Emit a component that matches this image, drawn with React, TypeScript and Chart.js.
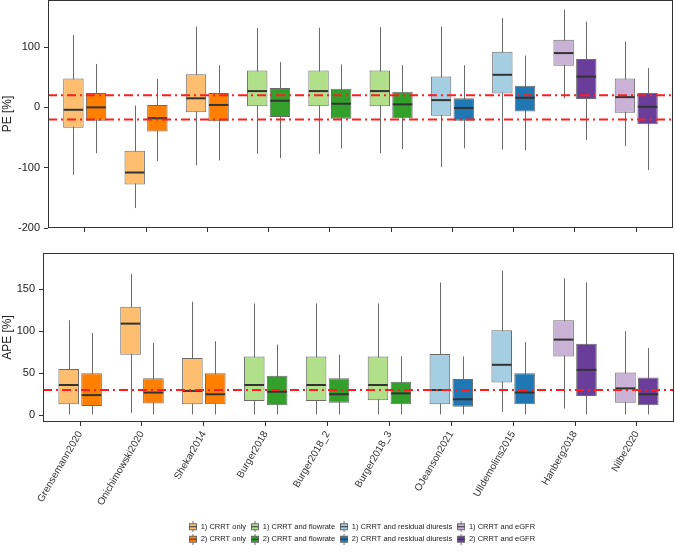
import React, { useEffect, useRef } from 'react';
import { Chart, registerables } from 'chart.js';
Chart.register(...registerables);

const categories = ['Grensemann2020', 'Onichimowski2020', 'Shekar2014', 'Burger2018', 'Burger2018_2', 'Burger2018_3', 'OJeanson2021', 'Ulldemolins2015', 'Hanberg2018', 'Nilbe2020'];
const modelGroup = [0, 0, 0, 1, 1, 1, 2, 2, 3, 3];
const groupNames = ['CRRT only', 'CRRT and flowrate', 'CRRT and residual diuresis', 'CRRT and eGFR'];
const lightColors = ['#FDBF6F', '#B2DF8A', '#A6CEE3', '#CAB2D6'];
const darkColors = ['#FF7F00', '#33A02C', '#1F78B4', '#6A3D9A'];

// PE [%], model 1)
const pe1Min = [-112, -167, -96, -77, -77, -76, -99, -70, 15, -64];
const pe1Q1 = [-34, -128, -8, 2, 2, 2, -14, 23, 69, -9];
const pe1Med = [-4, -108, 15, 27, 27, 27, 12, 54, 90, 17];
const pe1Q3 = [48, -72, 55, 61, 61, 61, 51, 92, 112, 48];
const pe1Max = [120, 3, 134, 132, 132, 133, 134, 148, 162, 109];
// PE [%], model 2)
const pe2Min = [-76, -89, -88, -84, -68, -69, -68, -71, -54, -104];
const pe2Q1 = [-22, -40, -23, -16, -19, -18, -22, -7, 14, -28];
const pe2Med = [0, -18, 4, 11, 6, 5, -1, 16, 51, 1];
const pe2Q3 = [24, 4, 24, 32, 31, 26, 15, 36, 80, 24];
const pe2Max = [72, 47, 70, 75, 71, 70, 70, 86, 142, 65];
// APE [%], model 1)
const ape1Min = [1, 3, 1, 1, 1, 1, 1, 4, 8, 1];
const ape1Q1 = [13, 72, 13, 17, 17, 18, 13, 39, 70, 15];
const ape1Med = [36, 109, 29, 36, 36, 36, 30, 60, 90, 32];
const ape1Q3 = [55, 129, 68, 70, 70, 70, 73, 101, 113, 51];
const ape1Max = [113, 168, 135, 133, 133, 133, 158, 172, 163, 100];
// APE [%], model 2)
const ape2Min = [1, 1, 1, 1, 1, 1, 1, 1, 1, 1];
const ape2Q1 = [11, 14, 13, 12, 15, 13, 10, 13, 23, 12];
const ape2Med = [24, 27, 25, 28, 25, 26, 19, 27, 54, 25];
const ape2Q3 = [50, 44, 50, 47, 44, 40, 43, 50, 85, 45];
const ape2Max = [98, 86, 88, 84, 72, 70, 70, 87, 158, 80];

const peTicks = [-200, -100, 0, 100];
const apeTicks = [0, 50, 100, 150];
const peRefLines = [-20, 20];
const apeRefLines = [30];

const FONT = "'Liberation Sans', Arial, Helvetica, sans-serif";
Chart.defaults.font.family = FONT;

type Stat = { min: number[]; med: number[]; max: number[] };

function makeBoxPlugin(stats: Stat[], refs: number[]) {
  return {
    id: 'boxExtras',
    beforeDatasetsDraw(chart: any) {
      const ctx = chart.ctx;
      const ys = chart.scales.y;
      ctx.save();
      ctx.strokeStyle = '#6b6b6b';
      ctx.lineWidth = 1;
      stats.forEach((s, d) => {
        chart.getDatasetMeta(d).data.forEach((el: any, i: number) => {
          const x = Math.round(el.x) + 0.5;
          ctx.beginPath();
          ctx.moveTo(x, ys.getPixelForValue(s.min[i]));
          ctx.lineTo(x, ys.getPixelForValue(s.max[i]));
          ctx.stroke();
        });
      });
      ctx.restore();
    },
    afterDatasetsDraw(chart: any) {
      const ctx = chart.ctx;
      const ys = chart.scales.y;
      const area = chart.chartArea;
      ctx.save();
      ctx.strokeStyle = '#333333';
      ctx.lineWidth = 2;
      stats.forEach((s, d) => {
        chart.getDatasetMeta(d).data.forEach((el: any, i: number) => {
          const y = ys.getPixelForValue(s.med[i]);
          ctx.beginPath();
          ctx.moveTo(el.x - el.width / 2 + 0.5, y);
          ctx.lineTo(el.x + el.width / 2 - 0.5, y);
          ctx.stroke();
        });
      });
      ctx.strokeStyle = '#FF1E1E';
      ctx.lineWidth = 2;
      ctx.setLineDash([9, 4, 2, 4]);
      refs.forEach((r) => {
        const y = ys.getPixelForValue(r);
        ctx.beginPath();
        ctx.moveTo(area.left, y);
        ctx.lineTo(area.right, y);
        ctx.stroke();
      });
      ctx.setLineDash([]);
      ctx.strokeStyle = '#333333';
      ctx.lineWidth = 1;
      ctx.strokeRect(Math.round(area.left) + 0.5, Math.round(area.top) + 0.5, Math.round(area.right - area.left) - 1, Math.round(area.bottom - area.top) - 1);
      ctx.restore();
    },
  };
}

function makeIcon(fill: string) {
  const c = document.createElement('canvas');
  c.width = 8;
  c.height = 11;
  const g = c.getContext('2d')!;
  g.strokeStyle = '#6b6b6b';
  g.lineWidth = 1;
  g.beginPath();
  g.moveTo(4, 0);
  g.lineTo(4, 11);
  g.stroke();
  g.fillStyle = fill;
  g.fillRect(0.5, 2.5, 7, 6);
  g.strokeRect(0.5, 2.5, 7, 6);
  g.strokeStyle = '#333';
  g.beginPath();
  g.moveTo(0.5, 5.5);
  g.lineTo(7.5, 5.5);
  g.stroke();
  return c;
}

function boxDatasets(q1a: number[], q3a: number[], q1b: number[], q3b: number[]) {
  const common = {
    borderColor: '#6b6b6b',
    borderWidth: 1,
    borderSkipped: false as const,
    categoryPercentage: 0.74,
    barPercentage: 0.9,
  };
  return [
    {
      ...common,
      label: '1)',
      data: categories.map((_, i) => ({ x: i + 1, y: [q1a[i], q3a[i]] })),
      backgroundColor: modelGroup.map((g) => lightColors[g]),
    },
    {
      ...common,
      label: '2)',
      data: categories.map((_, i) => ({ x: i + 1, y: [q1b[i], q3b[i]] })),
      backgroundColor: modelGroup.map((g) => darkColors[g]),
    },
  ];
}

function xScale(showLabels: boolean, fixedHeight?: number) {
  return {
    type: 'linear' as const,
    min: 0.4,
    max: 10.6,
    offset: false,
    afterBuildTicks: (scale: any) => {
      scale.ticks = categories.map((_, i) => ({ value: i + 1 }));
    },
    afterFit: (scale: any) => {
      if (fixedHeight !== undefined) scale.height = fixedHeight;
      scale.paddingLeft = 0;
      scale.paddingRight = 0;
    },
    ticks: {
      display: showLabels,
      autoSkip: false,
      minRotation: 60,
      maxRotation: 60,
      padding: 3,
      color: '#333333',
      font: { size: 10, family: FONT },
      callback: (v: any) => categories[Math.round(Number(v)) - 1],
    },
    grid: { display: true, offset: false, drawOnChartArea: false, drawTicks: true, tickLength: 4, color: '#333333' },
    border: { display: false },
  };
}

function yScale(min: number, max: number, tickVals: number[], title: string, width: number) {
  return {
    type: 'linear' as const,
    min,
    max,
    afterBuildTicks: (scale: any) => {
      scale.ticks = tickVals.map((v) => ({ value: v }));
    },
    afterFit: (scale: any) => {
      scale.width = width;
      scale.paddingTop = 0;
      scale.paddingBottom = 0;
    },
    ticks: { color: '#222222', padding: 4, font: { size: 11, family: FONT } },
    grid: { display: true, drawOnChartArea: false, drawTicks: true, tickLength: 4, color: '#333333' },
    border: { display: false },
    title: { display: true, text: title, color: '#222222', padding: 0, font: { size: 12, family: FONT } },
  };
}

export default function App() {
  const topRef = useRef<HTMLCanvasElement>(null);
  const botRef = useRef<HTMLCanvasElement>(null);
  const legRef = useRef<HTMLCanvasElement>(null);

  useEffect(() => {
    const top = new Chart(topRef.current!, {
      type: 'bar',
      data: { datasets: boxDatasets(pe1Q1, pe1Q3, pe2Q1, pe2Q3) as any },
      options: {
        animation: false,
        responsive: false,
        devicePixelRatio: 1,
        layout: { padding: { top: 0, right: 2, bottom: 4, left: 0 } },
        plugins: { legend: { display: false }, tooltip: { enabled: false } },
        scales: {
          x: xScale(false) as any,
          y: yScale(-200, 178, peTicks, 'PE [%]', 48) as any,
        },
      },
      plugins: [makeBoxPlugin([{ min: pe1Min, med: pe1Med, max: pe1Max }, { min: pe2Min, med: pe2Med, max: pe2Max }], peRefLines)],
    });

    const bot = new Chart(botRef.current!, {
      type: 'bar',
      data: { datasets: boxDatasets(ape1Q1, ape1Q3, ape2Q1, ape2Q3) as any },
      options: {
        animation: false,
        responsive: false,
        devicePixelRatio: 1,
        layout: { padding: { top: 13, right: 1, bottom: 0, left: 0 } },
        plugins: { legend: { display: false }, tooltip: { enabled: false } },
        scales: {
          x: xScale(true, 98) as any,
          y: yScale(-8, 193, apeTicks, 'APE [%]', 43) as any,
        },
      },
      plugins: [makeBoxPlugin([{ min: ape1Min, med: ape1Med, max: ape1Max }, { min: ape2Min, med: ape2Med, max: ape2Max }], apeRefLines)],
    });

    const legendItems: any[] = [];
    [0, 1].forEach((m) => {
      groupNames.forEach((name, g) => {
        const fill = m === 0 ? lightColors[g] : darkColors[g];
        legendItems.push({
          text: `${m + 1}) ${name}`,
          pointStyle: makeIcon(fill),
          fillStyle: fill,
          strokeStyle: '#6b6b6b',
          lineWidth: 0,
          hidden: false,
          datasetIndex: 0,
          fontColor: '#222222',
        });
      });
    });

    const leg = new Chart(legRef.current!, {
      type: 'bar',
      data: { labels: [], datasets: [] },
      options: {
        animation: false,
        responsive: false,
        devicePixelRatio: 1,
        layout: { padding: 0 },
        scales: { x: { display: false }, y: { display: false } },
        plugins: {
          tooltip: { enabled: false },
          legend: {
            display: true,
            position: 'top',
            onClick: () => {},
            labels: {
              usePointStyle: true,
              pointStyleWidth: 8,
              boxHeight: 8,
              padding: 5,
              color: '#222222',
              font: { size: 7.5, family: FONT },
              generateLabels: () => legendItems,
            },
          },
        },
      },
    });

    return () => {
      top.destroy();
      bot.destroy();
      leg.destroy();
    };
  }, []);

  return (
    <div style={{ position: 'absolute', left: 0, top: 0, width: 675, height: 556, overflow: 'hidden', background: '#ffffff' }}>
      <canvas ref={topRef} width={675} height={236} style={{ position: 'absolute', left: 0, top: 0, width: 675, height: 236 }} />
      <canvas ref={botRef} width={675} height={280} style={{ position: 'absolute', left: 0, top: 240, width: 675, height: 280 }} />
      <canvas ref={legRef} width={390} height={90} style={{ position: 'absolute', left: 167, top: 518, width: 390, height: 90 }} />
    </div>
  );
}
